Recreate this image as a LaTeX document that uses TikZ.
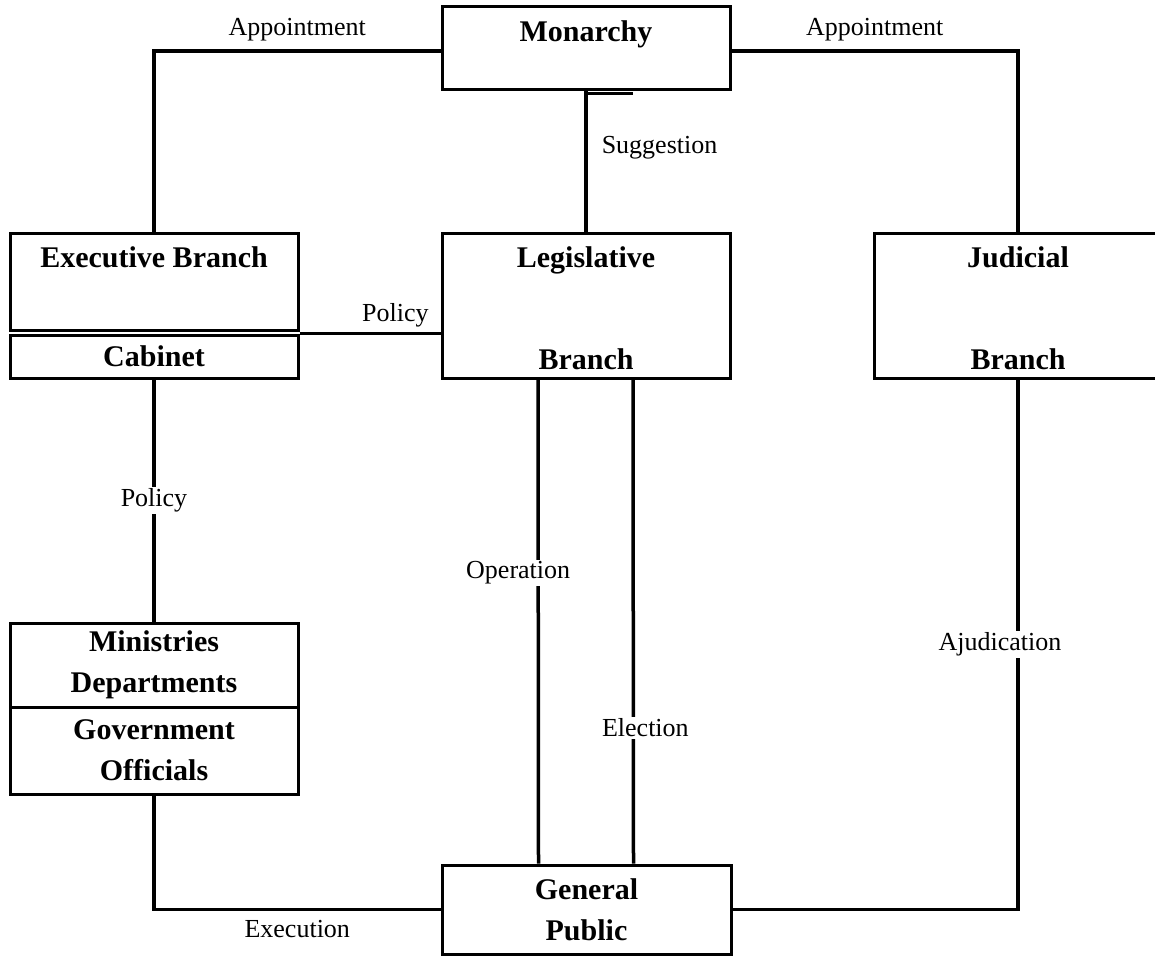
\documentclass[tikz,border=0pt]{standalone}
\usepackage{fontspec}
\setmainfont{Liberation Serif}

\begin{document}
\begin{tikzpicture}[x=1pt, y=-1pt,
    unit/.style={draw, line width=3pt, inner sep=0pt, minimum width=288pt, align=center, font=\fontsize{30}{41}\selectfont\bfseries},
    head/.style={anchor=north, inner sep=0pt, yshift=-15pt, font=\fontsize{30}{41}\selectfont\bfseries},
    foot/.style={anchor=base, inner sep=0pt, yshift=10pt, font=\fontsize{30}{41}\selectfont\bfseries},
    wire/.style={line width=3.5pt},
    tag/.style={inner sep=2pt, fill=white, font=\fontsize{26}{30}\selectfont}]
                    \useasboundingbox (0,0) rectangle (1155,955);
                    \node[unit, minimum height=83pt, label={[head]north:Monarchy}] (mon) at (586,48.5) {};
                    \node[unit, minimum height=97pt, label={[head]north:Executive Branch}] (exec) at (154,281.5) {};
                    \node[unit, minimum height=43pt] (cab) at (154,356.5) {Cabinet};
                    \node[unit, minimum height=145pt, label={[head]north:Legislative}, label={[foot]south:Branch}] (leg) at (586,305.5) {};
                    \node[unit, minimum height=145pt, label={[head]north:Judicial}, label={[foot]south:Branch}] (jud) at (1018,305.5) {};
                    \node[unit, minimum height=84pt] (min) at (154,665) {Ministries\\Departments};
                    \node[unit, minimum height=87pt] (off) at (154,750.5) {Government\\Officials};
                    \node[unit, minimum height=89pt, minimum width=289pt] (gp) at (586.5,909.5) {General\\Public};
                    % appointments from the monarchy
                    \draw[wire] ([yshift=-2.5pt]mon.west) -| (exec.north) node[pos=0.25, tag, fill=none, anchor=base, yshift=15pt] {Appointment};
                    \draw[wire] ([yshift=-2.5pt]mon.east) -| (jud.north) node[pos=0.25, tag, fill=none, anchor=base, yshift=15pt] {Appointment};
                    \draw[wire] (mon.south) -- (leg.north) node[pos=0.4, tag, fill=none, anchor=west, xshift=12pt] {Suggestion};
                    \draw[wire] ([yshift=-2pt]mon.south) -- ++(47,0);
                    % policy lines
                    \draw[wire] (cab.north east) -- (cab.north east -| leg.west) node[pos=0.68, tag, fill=none, anchor=base, yshift=12pt] {Policy};
                    \draw[wire] (cab.south) -- (min.north) node[pos=0.5, tag] {Policy};
                    % public links
                    \draw[wire] ([xshift=-48pt]leg.south) -- ([xshift=-48pt]gp.north) node[pos=0.4, tag, xshift=-20pt] {Operation};
                    \draw[wire] ([xshift=47pt]leg.south) -- ([xshift=47pt]gp.north) node[pos=0.72, tag, xshift=12pt] {Election};
                    \draw[wire] (off.south) |- (gp.west) node[pos=0.75, tag, fill=none, anchor=base, yshift=-28pt] {Execution};
                    \draw[wire] (jud.south) |- (gp.east) node[pos=0.25, tag, xshift=-18pt] {Ajudication};
                \end{tikzpicture}
\end{document}
